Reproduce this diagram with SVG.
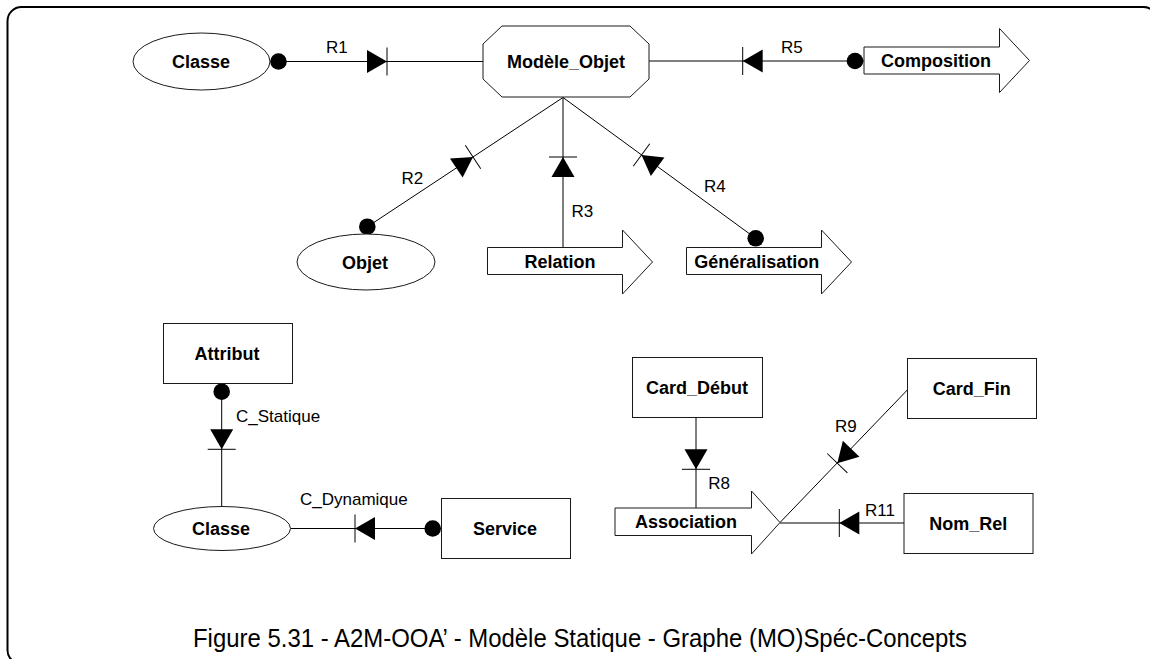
<svg xmlns="http://www.w3.org/2000/svg" xmlns:xlink="http://www.w3.org/1999/xlink" width="1150" height="659" viewBox="0 0 1150 659">
<style>
.shape{fill:#fff;stroke:#1a1a1a;stroke-width:1}
.ln{stroke:#000;stroke-width:1;fill:none}
.nt{font-family:"Liberation Sans",Arial,sans-serif;font-weight:bold;font-size:18px;text-anchor:middle;fill:#000}
.lb{font-family:"Liberation Sans",Arial,sans-serif;font-size:17px;fill:#000}
.cap{font-family:"Liberation Sans",Arial,sans-serif;font-size:26px;fill:#000}
.dot{fill:#000}
</style>
<defs>
<g id="arr"><polygon points="0,0 -20,-11.5 -20,11.5" fill="#000"/><line x1="0" y1="-14" x2="0" y2="14" stroke="#000" stroke-width="1"/></g>
</defs>
<rect x="7.5" y="7" width="1150" height="657" rx="14" ry="14" fill="none" stroke="#000" stroke-width="2"/>

<g id="connectors">
<g id="R1"><line class="ln" x1="270" y1="61.5" x2="483" y2="61.5"/><circle class="dot" cx="278.5" cy="61.5" r="8.3"/><use xlink:href="#arr" transform="translate(387,61.5)"/><text class="lb" x="326" y="53">R1</text></g>
<g id="R5"><line class="ln" x1="649" y1="61" x2="864" y2="61"/><circle class="dot" cx="855" cy="61" r="8.3"/><use xlink:href="#arr" transform="translate(742.7,61) rotate(180)"/><text class="lb" x="781" y="53">R5</text></g>
<g id="R2"><line class="ln" x1="563" y1="97.5" x2="367" y2="227"/><circle class="dot" cx="367.3" cy="226.7" r="8.3"/><use xlink:href="#arr" transform="translate(473,157) rotate(-33.4)"/><text class="lb" x="401.5" y="183.5">R2</text></g>
<g id="R3"><line class="ln" x1="563" y1="97.5" x2="563" y2="248"/><use xlink:href="#arr" transform="translate(563,157) rotate(-90)"/><text class="lb" x="571.5" y="217">R3</text></g>
<g id="R4"><line class="ln" x1="563" y1="97.5" x2="755.7" y2="238.3"/><circle class="dot" cx="755.7" cy="238.3" r="8.3"/><use xlink:href="#arr" transform="translate(641.5,155) rotate(-143.8)"/><text class="lb" x="704" y="192">R4</text></g>
<g id="C_Statique"><line class="ln" x1="221.7" y1="383.5" x2="221.7" y2="506.5"/><circle class="dot" cx="221.7" cy="391.7" r="8.3"/><use xlink:href="#arr" transform="translate(221.7,449.3) rotate(90)"/><text class="lb" x="236" y="421.7">C_Statique</text></g>
<g id="C_Dynamique"><line class="ln" x1="290.5" y1="528.5" x2="441.5" y2="528.5"/><circle class="dot" cx="432.7" cy="528.5" r="8.3"/><use xlink:href="#arr" transform="translate(355,528.5) rotate(180)"/><text class="lb" x="300" y="505">C_Dynamique</text></g>
<g id="R8"><line class="ln" x1="696" y1="417.5" x2="696" y2="508"/><use xlink:href="#arr" transform="translate(696,469.3) rotate(90)"/><text class="lb" x="708.3" y="489.3">R8</text></g>
<g id="R9"><line class="ln" x1="907.3" y1="390" x2="780" y2="522.5"/><use xlink:href="#arr" transform="translate(837.3,463.2) rotate(133.8)"/><text class="lb" x="835" y="431.7">R9</text></g>
<g id="R11"><line class="ln" x1="780" y1="523" x2="904" y2="523"/><use xlink:href="#arr" transform="translate(839.3,523) rotate(180)"/><text class="lb" x="865" y="516">R11</text></g>
</g>

<g id="n-classe1"><ellipse class="shape" cx="201.5" cy="61.5" rx="68.5" ry="28.5"/><text class="nt" x="201" y="68">Classe</text></g>
<g id="n-modele"><polygon class="shape" points="502,26 630,26 649,44 649,79 630,97 502,97 483,79 483,44"/><text class="nt" x="566" y="68">Modèle_Objet</text></g>
<g id="n-composition"><path class="shape" d="M864,47 H999.5 V28.5 L1029.5,60.5 L999.5,92.5 V74 H864 Z"/><text class="nt" x="936" y="66.5">Composition</text></g>
<g id="n-objet"><ellipse class="shape" cx="366" cy="262" rx="69" ry="28"/><text class="nt" x="365" y="268.5">Objet</text></g>
<g id="n-relation"><path class="shape" d="M487.5,247.5 H622.5 V230 L652.5,262 L622.5,294 V274.5 H487.5 Z"/><text class="nt" x="560" y="267.5">Relation</text></g>
<g id="n-generalisation"><path class="shape" d="M686.5,247.5 H821.5 V230 L851.5,262 L821.5,294 V274.5 H686.5 Z"/><text class="nt" x="756.7" y="267.5">Généralisation</text></g>
<g id="n-attribut"><rect class="shape" x="163.5" y="323.5" width="129" height="60"/><text class="nt" x="227" y="360">Attribut</text></g>
<g id="n-classe2"><ellipse class="shape" cx="222" cy="528.5" rx="68.5" ry="22"/><text class="nt" x="221" y="535">Classe</text></g>
<g id="n-service"><rect class="shape" x="441.5" y="498.5" width="129" height="60"/><text class="nt" x="505" y="535">Service</text></g>
<g id="n-carddebut"><rect class="shape" x="632.5" y="357.5" width="130" height="60"/><text class="nt" x="697" y="394">Card_Début</text></g>
<g id="n-cardfin"><rect class="shape" x="907.5" y="358.5" width="129" height="60"/><text class="nt" x="971.7" y="395">Card_Fin</text></g>
<g id="n-association"><path class="shape" d="M615,508 H751.5 V491 L780,522.5 L751.5,554 V535.5 H615 Z"/><text class="nt" x="686" y="528">Association</text></g>
<g id="n-nomrel"><rect class="shape" x="904" y="493.5" width="129" height="60"/><text class="nt" x="968.3" y="530">Nom_Rel</text></g>

<text class="cap" x="193" y="646.5" textLength="774" lengthAdjust="spacingAndGlyphs">Figure 5.31 - A2M-OOA’ - Modèle Statique - Graphe (MO)Spéc-Concepts</text>
</svg>
